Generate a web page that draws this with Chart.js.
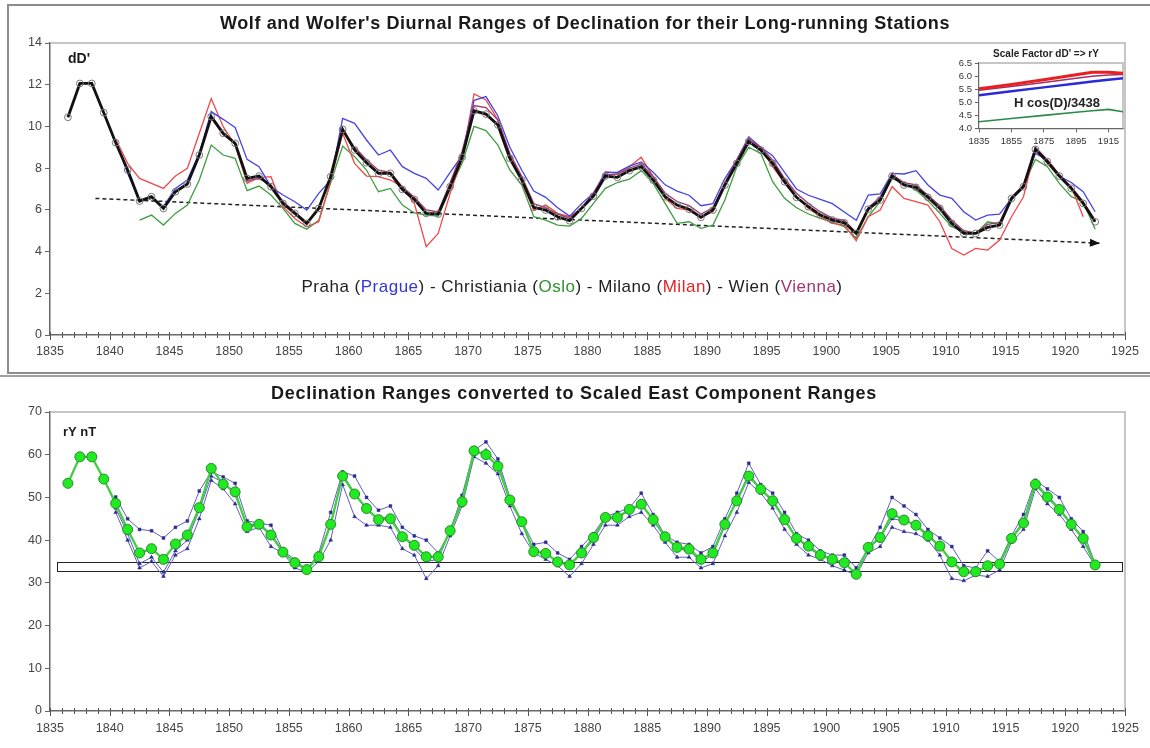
<!DOCTYPE html>
<html>
<head>
<meta charset="utf-8">
<title>Wolf and Wolfer's Diurnal Ranges of Declination</title>
<script src="https://cdn.jsdelivr.net/npm/chart.js@4.4.1/dist/chart.umd.min.js"></script>
<style>
  html, body { margin: 0; padding: 0; background: #fff; }
  body { width: 1150px; height: 748px; position: relative; overflow: hidden; }
  .panel { position: absolute; box-sizing: border-box; }
  #panelTop { left: 7px; top: 4px; width: 1170px; height: 370px; border: 2px solid #8c8c8c; }
  #panelBottom { left: -4px; top: 375px; width: 1170px; height: 400px; border-top: 2px solid #a0a0a0; }
  canvas { position: absolute; }
  #topChart { left: 0; top: 0; }
  #bottomChart { left: 0; top: 375px; }
  #inset { left: 925px; top: 42px; }
</style>
</head>
<body>
<div class="panel" id="panelTop"></div>
<div class="panel" id="panelBottom"></div>
<canvas id="topChart" width="1150" height="375"></canvas>
<canvas id="bottomChart" width="1150" height="373"></canvas>
<canvas id="inset" width="205" height="118"></canvas>
<script>
// ---- categories (each value is the yearly mean, plotted at mid-year) ----
const years = [
  1836, 1837, 1838, 1839, 1840, 1841, 1842, 1843, 1844, 1845,
  1846, 1847, 1848, 1849, 1850, 1851, 1852, 1853, 1854, 1855,
  1856, 1857, 1858, 1859, 1860, 1861, 1862, 1863, 1864, 1865,
  1866, 1867, 1868, 1869, 1870, 1871, 1872, 1873, 1874, 1875,
  1876, 1877, 1878, 1879, 1880, 1881, 1882, 1883, 1884, 1885,
  1886, 1887, 1888, 1889, 1890, 1891, 1892, 1893, 1894, 1895,
  1896, 1897, 1898, 1899, 1900, 1901, 1902, 1903, 1904, 1905,
  1906, 1907, 1908, 1909, 1910, 1911, 1912, 1913, 1914, 1915,
  1916, 1917, 1918, 1919, 1920, 1921, 1922
];

// ---- diurnal range of declination dD' (arc minutes) ----
const dDMean = [
  10.44, 12.06, 12.06, 10.66, 9.22, 7.91, 6.42, 6.63, 6.07, 6.87,
  7.24, 8.63, 10.47, 9.67, 9.19, 7.51, 7.62, 7.11, 6.31, 5.83,
  5.35, 6.07, 7.59, 9.86, 8.87, 8.26, 7.75, 7.75, 6.98, 6.5,
  5.83, 5.80, 7.11, 8.52, 10.75, 10.59, 10.07, 8.47, 7.43, 6.12,
  5.99, 5.67, 5.48, 6.07, 6.66, 7.62, 7.56, 7.88, 8.07, 7.43,
  6.63, 6.23, 6.03, 5.64, 5.99, 7.19, 8.23, 9.27, 8.87, 8.23,
  7.35, 6.60, 6.15, 5.75, 5.51, 5.38, 4.87, 6.03, 6.47, 7.62,
  7.19, 7.08, 6.60, 6.07, 5.35, 4.87, 4.87, 5.16, 5.27, 6.55,
  7.11, 8.90, 8.31, 7.62, 7.03, 6.31, 5.43
];
const dDPraha = [
  null, null, null, null, 9.3, 7.75, 6.42, 6.6, 6.15, 7.03,
  7.43, 8.71, 10.71, 10.34, 9.95, 8.42, 8.07, 7.11, 6.71, 6.39,
  5.99, 6.79, 7.43, 10.39, 10.15, 9.35, 8.63, 8.87, 8.07, 7.75,
  7.51, 6.95, 7.8, 8.6, 11.25, 11.43, 10.5, 9.0, 7.9, 6.9,
  6.6, 6.1, 5.7, 6.3, 6.8, 7.8, 7.8, 8.1, 8.3, 7.8,
  7.2, 6.9, 6.7, 6.2, 6.3, 7.5, 8.4, 9.5, 9.0, 8.6,
  7.8, 7.0, 6.7, 6.5, 6.3, 5.9, 5.5, 6.71, 6.76, 7.75,
  7.72, 7.88, 7.19, 6.71, 6.55, 5.91, 5.51, 5.75, 5.80, 6.55,
  7.19, 8.71, 8.39, 7.62, 7.31, 6.87, 5.91
];
const dDChristiania = [
  null, null, null, null, null, null, 5.51, 5.75, 5.27, 5.83,
  6.23, 7.43, 9.11, 8.63, 8.47, 6.92, 7.14, 6.71, 6.07, 5.35,
  5.07, 5.5, 7.3, 9.06, 8.55, 7.91, 6.87, 7.03, 6.23, 5.85,
  5.75, 5.7, 7.0, 8.23, 10.0, 9.8, 9.1, 7.91, 7.19, 5.67,
  5.51, 5.27, 5.22, 5.59, 6.31, 7.03, 7.31, 7.47, 7.88, 7.27,
  6.31, 5.35, 5.43, 5.11, 5.27, 6.47, 8.07, 9.0, 8.71, 7.35,
  6.55, 6.1, 5.8, 5.59, 5.4, 5.19, 4.63, 5.67, 6.39, 7.51,
  7.27, 6.95, 6.44, 5.83, 5.19, 4.95, 4.87, 5.43, 5.31, 6.47,
  7.19, 8.42, 8.07, 7.27, 6.63, 6.39, 5.07
];
const dDMilano = [
  null, null, null, null, 9.4, 8.23, 7.51, 7.27, 7.03, 7.62,
  7.99, 9.67, 11.34, 9.99, 9.11, 7.27, 7.55, 7.59, 6.15, 5.59,
  5.19, 5.43, 7.4, 9.67, 8.23, 7.62, 7.59, 7.43, 7.11, 6.31,
  4.23, 4.87, 6.79, 8.47, 11.56, 11.27, 10.31, 8.63, 7.35, 5.99,
  6.23, 5.83, 5.67, 6.07, 6.71, 7.83, 7.75, 8.07, 8.52, 7.59,
  6.55, 6.07, 5.99, 5.67, 5.91, 7.27, 8.39, 9.43, 8.95, 8.07,
  7.27, 6.63, 6.07, 5.67, 5.35, 5.27, 4.52, 5.67, 5.99, 7.11,
  6.55, 6.39, 6.23, 5.43, 4.15, 3.83, 4.15, 4.07, 4.55, 5.67,
  6.63, 8.95, 8.23, 7.59, 7.11, 5.67, null
];
const dDWien = [
  null, null, null, null, null, null, null, null, null, null,
  null, null, 10.4, 9.6, 9.2, 7.4, 7.5, 7.2, 6.4, 5.9,
  5.4, 6.0, 7.7, 9.8, 9.0, 8.4, 7.9, 7.8, 7.1, 6.6,
  6.0, 5.9, 7.3, 8.8, 11.0, 10.9, 10.3, 8.7, 7.6, 6.3,
  6.1, 5.8, 5.6, 6.1, 6.8, 7.7, 7.7, 8.0, 8.2, 7.6,
  6.8, 6.4, 6.2, 5.8, 6.1, 7.3, 8.4, 9.4, 9.0, 8.4,
  7.5, 6.8, 6.3, 5.9, 5.6, 5.5, 4.9, 6.1, 6.6, 7.7,
  7.3, 7.2, 6.7, 6.2, 5.5, 5.0, 4.9, 5.3, 5.4, 6.6,
  7.2, 9.0, 8.4, 7.7, 7.1, 6.4, 5.5
];
// long-term trend of the range minima
const trendYears = [1838.8, 1922.9];
const trendValues = [6.55, 4.40];

// ---- scale factor H cos(D)/3438 per station ----
const scaleYears = [1835, 1855, 1875, 1895, 1905, 1915, 1924];
const scaleMilano = [5.52, 5.68, 5.86, 6.05, 6.15, 6.15, 6.11];
const scaleWien = [5.46, 5.60, 5.76, 5.92, 5.99, 6.04, 6.06];
const scalePraha = [5.27, 5.42, 5.57, 5.72, 5.79, 5.86, 5.92];
const scaleChristiania = [4.26, 4.38, 4.50, 4.62, 4.68, 4.73, 4.64];

// ---- east component range rY (nT) ----
const rYMean = [
  53.3, 59.5, 59.5, 54.3, 48.6, 42.5, 37.0, 38.0, 35.5, 39.1,
  41.2, 47.6, 56.8, 53.1, 51.3, 43.1, 43.7, 41.2, 37.2, 34.7,
  33.1, 36.1, 43.7, 55.0, 50.8, 47.4, 44.8, 45.0, 40.8, 38.8,
  36.1, 36.1, 42.2, 49.0, 60.9, 60.0, 57.3, 49.4, 44.3, 37.3,
  36.9, 34.9, 34.2, 37.0, 40.6, 45.3, 45.3, 47.2, 48.4, 44.8,
  40.8, 38.3, 37.9, 35.5, 37.0, 43.7, 49.2, 55.0, 51.9, 49.2,
  44.8, 40.4, 38.6, 36.5, 35.5, 34.7, 32.0, 38.3, 40.6, 46.2,
  44.7, 43.5, 41.0, 38.6, 34.9, 32.6, 32.6, 34.0, 34.4, 40.4,
  44.0, 53.1, 50.1, 47.2, 43.7, 40.4, 34.2
];
const rYPraha = [
  null, null, null, null, 50.1, 45, 42.5, 42.2, 40.5, 43,
  44.5, 51.5, 56, 54.8, 53.3, 44.5, 44, 43.5, 37.5, 35.5,
  33, 37, 46.5, 56, 55, 50, 47, 48, 43, 41,
  40, 37, 42, 50.5, 61, 63, 59, 50, 44.5, 39,
  39.5, 37, 35.5, 38.5, 41.5, 45.5, 46.5, 47.5, 51, 46,
  41, 39.5, 39, 37, 38.5, 45, 51, 58, 53, 51,
  46.5, 41.5, 40, 37.5, 36.5, 36.5, 33.5, 38, 43, 50,
  48, 46, 42.5, 40.5, 38.5, 34, 33.5, 37.5, 35, 41,
  46, 54, 52, 50, 45, 42, 34.5
];
const rYChristiania = [
  null, null, null, null, 46.5, 40, 33.5, 35, 31.5, 36.5,
  38, 45, 54, 52, 48.5, 42, 43, 38.5, 37, 33.5,
  32.5, 35, 40, 53, 45.5, 43.5, 43.5, 43, 38, 36.5,
  31, 34, 41, 48, 59.5, 58, 55.5, 48, 41.5, 37,
  35.5, 34, 31.5, 34.5, 39, 43.5, 43.5, 45.5, 46.5, 43.5,
  39.5, 36, 36, 33.5, 34.5, 41, 46.5, 53.5, 51, 47.5,
  42.5, 39, 36.5, 35.5, 34, 33, 31.8, 37, 38.5, 43,
  42, 41.5, 40, 36.5, 31, 30.5, 31.8, 31.5, 33, 39.5,
  42.5, 52, 48.5, 46, 42.5, 38.5, 34
];
const rYWien = [
  null, null, null, null, 47.5, 41.5, 34.5, 36, 32.5, 37.5,
  40, 47, 55, 53.5, 50.5, 43.5, 44, 41.5, 37.5, 34.5,
  33.2, 36.5, 44, 55.5, 51, 47, 45, 45.5, 41, 38,
  35, 35.5, 42.5, 49.5, 60, 61, 58, 49, 44, 37.5,
  37, 35, 34, 37, 40, 45, 45, 47, 48, 45,
  40.5, 38, 37.5, 35, 36.5, 43.5, 49.5, 55.5, 52, 49.5,
  45, 40.5, 38, 36.5, 35.5, 34.5, 32.2, 38, 40.5, 45,
  44.5, 43.5, 41.5, 38.5, 35, 32, 32.5, 34, 34.5, 40.5,
  44.5, 53.5, 50.5, 47.5, 44, 40.5, 34.2
];
// reference band of quiet-year ranges
const bandYears = [1835.6, 1924.8];
const bandValues = [32.8, 34.8];

// ---- tick labels ----
const xTickYears = [1835, 1840, 1845, 1850, 1855, 1860, 1865, 1870, 1875, 1880,
  1885, 1890, 1895, 1900, 1905, 1910, 1915, 1920, 1925];
const dDTicks = [0, 2, 4, 6, 8, 10, 12, 14];
const rYTicks = [0, 10, 20, 30, 40, 50, 60, 70];
const insetXTicks = [1835, 1855, 1875, 1895, 1915];
const insetYTicks = [4.0, 4.5, 5.0, 5.5, 6.0, 6.5];

const FONT = 'Arial, "Liberation Sans", Helvetica, sans-serif';
Chart.defaults.font.family = FONT;
Chart.defaults.color = '#333';
Chart.defaults.animation = false;

const midYear = vals => years.map((y, i) => ({ x: y + 0.5, y: vals[i] }));
const pairs = (xs, ys) => xs.map((x, i) => ({ x, y: ys[i] }));

function yearAxis(axisHeight, pad) {
  return {
    type: 'linear', min: 1835, max: 1925,
    afterBuildTicks: s => { s.ticks = xTickYears.map(v => ({ value: v })); },
    afterFit: s => { s.height = axisHeight; },
    grid: { display: false, drawTicks: false },
    border: { display: true, color: '#666', width: 1.5 },
    ticks: { padding: pad, font: { size: 12.5 }, color: '#444', maxRotation: 0, autoSkip: false,
      callback: v => String(v) }
  };
}
function valueAxis(min, max, tickList, width) {
  return {
    type: 'linear', min, max,
    afterBuildTicks: s => { s.ticks = tickList.map(v => ({ value: v })); },
    afterFit: s => { s.width = width; },
    grid: { drawOnChartArea: false, drawTicks: true, tickLength: 5, color: '#666', lineWidth: 1 },
    border: { display: true, color: '#666', width: 1.5 },
    ticks: { padding: 3, font: { size: 12.5 }, color: '#444', autoSkip: false }
  };
}

// plot frame (top and right edges) and yearly tick marks on the time axis
function drawFrame(chart) {
  const { ctx, chartArea: a } = chart;
  ctx.save();
  ctx.strokeStyle = '#b4b4b4';
  ctx.lineWidth = 1.5;
  ctx.beginPath();
  ctx.moveTo(a.left, a.top);
  ctx.lineTo(a.right, a.top);
  ctx.lineTo(a.right, a.bottom);
  ctx.stroke();
  ctx.restore();
}
function drawYearTicks(chart) {
  const { ctx, chartArea: a, scales: { x } } = chart;
  ctx.save();
  ctx.strokeStyle = '#555';
  ctx.lineWidth = 1;
  for (let yr = x.min; yr <= x.max; yr++) {
    const px = Math.round(x.getPixelForValue(yr)) + 0.5;
    const major = yr % 5 === 0;
    ctx.beginPath();
    ctx.moveTo(px, a.bottom - 3);
    ctx.lineTo(px, a.bottom + (major ? 5 : 3));
    ctx.stroke();
  }
  ctx.restore();
}
function text(ctx, str, x, y, font, color, align, spacing) {
  ctx.font = font;
  ctx.fillStyle = color;
  ctx.textAlign = align || 'left';
  ctx.textBaseline = 'alphabetic';
  ctx.letterSpacing = (spacing || 0) + 'px';
  ctx.fillText(str, x, y);
  ctx.letterSpacing = '0px';
}

const topDecor = {
  id: 'topDecor',
  beforeDatasetsDraw(chart) { drawFrame(chart); },
  afterDatasetsDraw(chart) {
    // arrow head at the end of the trend line
    const { ctx } = chart;
    const meta = chart.getDatasetMeta(chart.data.datasets.findIndex(d => d.label === 'trend'));
    const n = meta.data.length;
    const p1 = meta.data[n - 2], p2 = meta.data[n - 1];
    const ang = Math.atan2(p2.y - p1.y, p2.x - p1.x);
    ctx.save();
    ctx.translate(p2.x, p2.y);
    ctx.rotate(ang);
    ctx.fillStyle = '#111';
    ctx.beginPath();
    ctx.moveTo(0, 0);
    ctx.lineTo(-10, -4);
    ctx.lineTo(-10, 4);
    ctx.closePath();
    ctx.fill();
    ctx.restore();
  },
  afterDraw(chart) {
    const { ctx } = chart;
    drawYearTicks(chart);
    ctx.save();
    text(ctx, "Wolf and Wolfer's Diurnal Ranges of Declination for their Long-running Stations",
      585, 29, 'bold 18px ' + FONT, '#1a1a1a', 'center', 0.6);
    text(ctx, "dD'", 68, 63, 'bold 14px ' + FONT, '#1a1a1a');
    // station key
    const parts = [
      ['Praha (', '#222'], ['Prague', '#3535dc'], [') - Christiania (', '#222'],
      ['Oslo', '#2d922d'], [') - Milano (', '#222'], ['Milan', '#e22424'],
      [') - Wien (', '#222'], ['Vienna', '#a3356e'], [')', '#222']
    ];
    const keyFont = '17px ' + FONT, keySpacing = 0.5;
    ctx.font = keyFont;
    ctx.letterSpacing = keySpacing + 'px';
    const widths = parts.map(p => ctx.measureText(p[0]).width);
    ctx.letterSpacing = '0px';
    const total = widths.reduce((s, w) => s + w, 0);
    let x = 572 - total / 2;
    parts.forEach(([s, c], i) => {
      text(ctx, s, x, 292, keyFont, c, 'left', keySpacing);
      x += widths[i];
    });
    ctx.restore();
  }
};

const bottomDecor = {
  id: 'bottomDecor',
  beforeDatasetsDraw(chart) {
    drawFrame(chart);
    const { ctx, scales: { x, y } } = chart;
    const x0 = x.getPixelForValue(bandYears[0]), x1 = x.getPixelForValue(bandYears[1]);
    const y0 = y.getPixelForValue(bandValues[1]), y1 = y.getPixelForValue(bandValues[0]);
    ctx.save();
    ctx.strokeStyle = '#222';
    ctx.lineWidth = 1;
    ctx.strokeRect(Math.round(x0) + 0.5, Math.round(y0) + 0.5, Math.round(x1 - x0), Math.round(y1 - y0));
    ctx.restore();
  },
  afterDraw(chart) {
    const { ctx } = chart;
    drawYearTicks(chart);
    ctx.save();
    text(ctx, 'Declination Ranges converted to Scaled East Component Ranges',
      574, 24, 'bold 18px ' + FONT, '#1a1a1a', 'center', 0.75);
    text(ctx, 'rY nT', 63, 61, 'bold 13px ' + FONT, '#1a1a1a');
    ctx.restore();
  }
};

const insetDecor = {
  id: 'insetDecor',
  beforeDatasetsDraw(chart) { drawFrame(chart); },
  afterDraw(chart) {
    const { ctx } = chart;
    ctx.save();
    text(ctx, "Scale Factor dD' => rY", 121, 15, 'bold 10px ' + FONT, '#222', 'center');
    text(ctx, 'H cos(D)/3438', 132, 65, 'bold 13px ' + FONT, '#222', 'center');
    ctx.restore();
  }
};

const station = (label, vals, color) => ({
  label, data: midYear(vals), borderColor: color, borderWidth: 1.3,
  pointRadius: 0, fill: false, tension: 0
});

new Chart(document.getElementById('topChart'), {
  type: 'line',
  data: {
    datasets: [
      { label: 'Mean', data: midYear(dDMean), borderColor: '#111', borderWidth: 2.8,
        pointRadius: 3.4, pointBorderColor: '#777', pointBorderWidth: 1,
        pointBackgroundColor: 'rgba(255,255,255,0)', fill: false },
      station('Wien', dDWien, '#a3356e'),
      station('Praha', dDPraha, '#4444e4'),
      station('Milano', dDMilano, '#f04848'),
      station('Christiania', dDChristiania, '#3f9d3f'),
      { label: 'trend', data: pairs(trendYears, trendValues), borderColor: '#222',
        borderWidth: 1.5, borderDash: [4, 3], pointRadius: 0, fill: false }
    ]
  },
  options: {
    responsive: false, animation: false,
    layout: { padding: { left: 0, top: 43, right: 25, bottom: 0 } },
    plugins: { legend: { display: false }, tooltip: { enabled: false } },
    scales: { x: yearAxis(40, 9), y: valueAxis(0, 14, dDTicks, 50) }
  },
  plugins: [topDecor]
});

const scaled = (label, vals, style, r) => ({
  label, data: midYear(vals), borderColor: '#6060bc', borderWidth: 1,
  pointStyle: style, pointRadius: r, pointBackgroundColor: '#2a2a90',
  pointBorderColor: '#2a2a90', pointBorderWidth: 0.5, fill: false
});

new Chart(document.getElementById('bottomChart'), {
  type: 'line',
  data: {
    datasets: [
      { label: 'Mean', data: midYear(rYMean), borderColor: '#3fcf3f', borderWidth: 2.3,
        pointRadius: 5, pointBackgroundColor: '#22ea22', pointBorderColor: '#2a8a2a',
        pointBorderWidth: 1, fill: false },
      scaled('Wien', rYWien, 'triangle', 2.2),
      scaled('Praha', rYPraha, 'rect', 2),
      scaled('Christiania', rYChristiania, 'triangle', 2.2)
    ]
  },
  options: {
    responsive: false, animation: false,
    layout: { padding: { left: 0, top: 37, right: 25, bottom: 0 } },
    plugins: { legend: { display: false }, tooltip: { enabled: false } },
    scales: { x: yearAxis(37, 10), y: valueAxis(0, 70, rYTicks, 50) }
  },
  plugins: [bottomDecor]
});

const factor = (label, vals, color, w) => ({
  label, data: pairs(scaleYears, vals), borderColor: color, borderWidth: w,
  pointRadius: 0, fill: false
});

new Chart(document.getElementById('inset'), {
  type: 'line',
  data: {
    datasets: [
      factor('Milano', scaleMilano, '#e82020', 3),
      factor('Wien', scaleWien, '#a0306a', 1.5),
      factor('Praha', scalePraha, '#2a2ad8', 2.5),
      factor('Christiania', scaleChristiania, '#2a8a4a', 1.6)
    ]
  },
  options: {
    responsive: false, animation: false,
    layout: { padding: { left: 0, top: 21, right: 7, bottom: 0 } },
    plugins: { legend: { display: false }, tooltip: { enabled: false } },
    scales: {
      x: {
        type: 'linear', min: 1835, max: 1924,
        afterBuildTicks: s => { s.ticks = insetXTicks.map(v => ({ value: v })); },
        afterFit: s => { s.height = 31.5; },
        grid: { drawOnChartArea: false, drawTicks: true, tickLength: 4, color: '#666' },
        border: { display: true, color: '#666', width: 1.2 },
        ticks: { padding: 3, font: { size: 9.5 }, color: '#333', maxRotation: 0, autoSkip: false,
          callback: v => String(v) }
      },
      y: {
        type: 'linear', min: 4, max: 6.5,
        afterBuildTicks: s => { s.ticks = insetYTicks.map(v => ({ value: v })); },
        afterFit: s => { s.width = 54; },
        grid: { drawOnChartArea: false, drawTicks: true, tickLength: 4, color: '#666' },
        border: { display: true, color: '#666', width: 1.2 },
        ticks: { padding: 3, font: { size: 9.5 }, color: '#333', autoSkip: false,
          callback: v => v.toFixed(1) }
      }
    }
  },
  plugins: [insetDecor]
});
</script>
</body>
</html>
